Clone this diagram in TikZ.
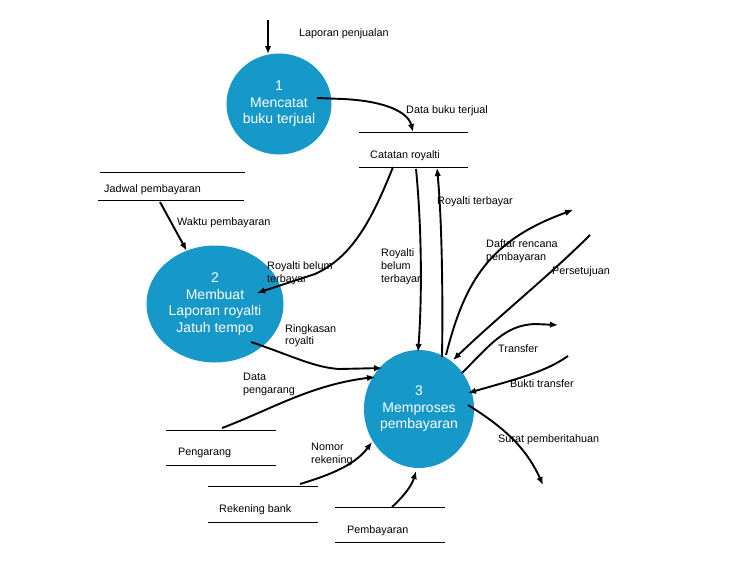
\documentclass[tikz,border=0pt]{standalone}
\usepackage{fontspec}
\setmainfont{Liberation Sans}
\usetikzlibrary{shapes.geometric,arrows.meta}
\definecolor{procblue}{RGB}{22,152,200}
\tikzset{
  proc/.style={ellipse, fill=procblue, draw=none, text=white, align=center,
    inner sep=0pt, font=\fontsize{14}{16.5}\selectfont},
  flow/.style={line width=1.9pt, -{Latex[length=8pt,width=6.5pt]}},
  lbl/.style={anchor=west, inner sep=0pt, align=left, yshift=-1.2pt, font=\fontsize{10.8}{13}\selectfont},
  storeline/.style={line width=0.8pt},
}
\begin{document}
\begin{tikzpicture}[x=1pt,y=-1pt]
\useasboundingbox (0,0) rectangle (751,581);

% processes
\node[proc, minimum width=105pt, minimum height=101pt] (p1) at (279,104) {1\\Mencatat\\buku terjual};
\node[proc, minimum width=137pt, minimum height=117pt] (p2) at (215,304) {2\\Membuat\\Laporan royalti\\Jatuh tempo};
\node[proc, minimum width=108pt, minimum height=118pt] (p3) at (419,409) {3\\Memproses\\pembayaran};

% data stores
\draw[storeline] (359,132) -- (468,132) (359,167) -- (468,167);
\node[lbl] (cr) at (370,155) {Catatan royalti};
\draw[storeline] (100,172) -- (245,172) (98,200) -- (244,200);
\node[lbl] (jp) at (104,189) {Jadwal pembayaran};
\draw[storeline] (166,430) -- (276,430) (166,465) -- (276,465);
\node[lbl] (pg) at (178,452) {Pengarang};
\draw[storeline] (208,486) -- (318,486) (208,522) -- (318,522);
\node[lbl] (rb) at (219,508) {Rekening bank};
\draw[storeline] (335,507) -- (445,507) (335,542) -- (445,542);
\node[lbl] (pb) at (347,529) {Pembayaran};

% connector endpoints
\coordinate (lpSrc) at (268,20);
\coordinate (crTopIn) at (413,132);
\coordinate (crBotA) at (393,167);
\coordinate (crBotB) at (416,169);
\coordinate (crBotC) at (437,168);
\coordinate (jpOut) at (160,202);
\coordinate (daftarOut) at (573,210);
\coordinate (setujuSrc) at (590,235);
\coordinate (transferOut) at (558,325);
\coordinate (buktiSrc) at (568,356);
\coordinate (suratOut) at (543,485);
\coordinate (pgOut) at (222,428);
\coordinate (rbOut) at (300,484);
\coordinate (pbOut) at (392,507);

% flows
\draw[flow] (lpSrc) -- (lpSrc |- p1.100);
\draw[flow] ([shift={(38,-6)}]p1.center) -- ++(26,1) .. controls (385,101) and (408,112) .. (crTopIn);
\draw[flow] (jpOut) -- (p2.118);
\draw[flow] (crBotA) .. controls (370,225) and (350,258) .. (315,274) -- ([shift={(42,-11)}]p2.center);
\draw[flow] ([shift={(36,38)}]p2.center) .. controls (290,355) and (315,368) .. (340,369) -- ([shift={(-37,-41)}]p3.center);
\draw[flow] (crBotB) .. controls (422,230) and (422,300) .. ([shift={(-1,-57)}]p3.center);
\draw[flow] ([shift={(23,-52)}]p3.center) .. controls (443,300) and (442,220) .. (crBotC);
\draw[flow] ([shift={(27,-54)}]p3.center) .. controls (465,280) and (490,240) .. (daftarOut);
\draw[flow] (setujuSrc) .. controls (550,275) and (500,315) .. ([shift={(34,-49)}]p3.center);
\draw[flow] ([shift={(43,-36)}]p3.center) .. controls (490,345) and (505,325) .. (535,324) -- (transferOut);
\draw[flow] (buktiSrc) .. controls (545,372) and (520,378) .. ([shift={(49,-16)}]p3.center);
\draw[flow] ([shift={(49,-4)}]p3.center) .. controls (500,425) and (525,445) .. (suratOut);
\draw[flow] (pgOut) .. controls (270,410) and (310,385) .. ([shift={(-44,-32)}]p3.center);
\draw[flow] (rbOut) .. controls (330,475) and (355,465) .. ([shift={(-47,33)}]p3.center);
\draw[flow] (pbOut) .. controls (405,495) and (412,485) .. ([shift={(-3,62)}]p3.center);

% flow labels
\node[lbl] (l1) at (299,33) {Laporan penjualan};
\node[lbl] (l2) at (406,110) {Data buku terjual};
\node[lbl] (l3) at (177,222) {Waktu pembayaran};
\node[lbl] (l4) at (267,272.5) {Royalti belum\\terbayar};
\node[lbl] (l5) at (381,265.5) {Royalti\\belum\\terbayar};
\node[lbl] (l6) at (437,201) {Royalti terbayar};
\node[lbl] (l7) at (486,250.5) {Daftar rencana\\pembayaran};
\node[lbl] (l8) at (552,271) {Persetujuan};
\node[lbl] (l9) at (285,334.5) {Ringkasan\\royalti};
\node[lbl] (l10) at (498,347) {Transfer};
\node[lbl] (l11) at (243,383.5) {Data\\pengarang};
\node[lbl] (l12) at (510,382) {Bukti transfer};
\node[lbl] (l13) at (498,438) {Surat pemberitahuan};
\node[lbl] (l14) at (311,453.5) {Nomor\\rekening};
\end{tikzpicture}
\end{document}
